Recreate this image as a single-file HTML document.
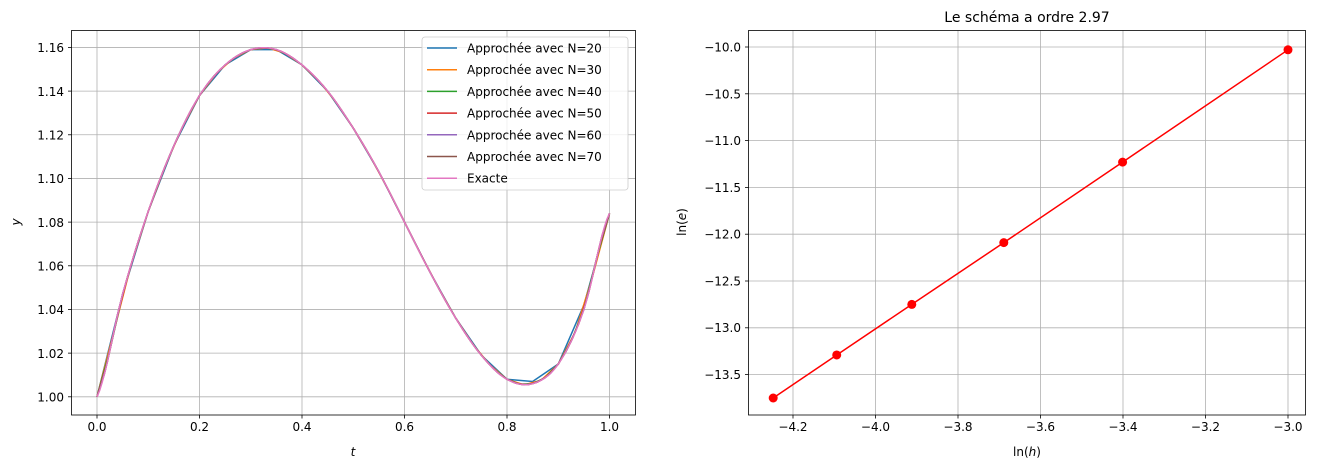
<!DOCTYPE html>
<html><head><meta charset="utf-8"><style>
body{margin:0;background:#fff}
svg{font-family:"DejaVu Sans","Liberation Sans",sans-serif;font-size:12px}
</style></head><body>
<svg id="s" width="1321" height="470" xmlns="http://www.w3.org/2000/svg">
<g id="grid" stroke="#b0b0b0" stroke-width="0.8"></g>
<g id="series" fill="none" stroke-width="1.5"></g>
<rect x="71.5" y="30.5" width="564" height="384.5" fill="none" stroke="#000" stroke-width="0.8"/>
<rect x="748.5" y="30.5" width="557" height="384.5" fill="none" stroke="#000" stroke-width="0.8"/>
<g id="ticks" stroke="#000" stroke-width="0.8"></g>
<g font-size="12" fill="#000">
<g text-anchor="middle">
<text x="97" y="431">0.0</text><text x="199.5" y="431">0.2</text><text x="302" y="431">0.4</text><text x="404.5" y="431">0.6</text><text x="507" y="431">0.8</text><text x="609.5" y="431">1.0</text>
<text x="793" y="431">−4.2</text><text x="875.5" y="431">−4.0</text><text x="958" y="431">−3.8</text><text x="1040.5" y="431">−3.6</text><text x="1123" y="431">−3.4</text><text x="1205.5" y="431">−3.2</text><text x="1288" y="431">−3.0</text>
<text x="353" y="456" font-style="italic">t</text>
<text x="1027" y="456">ln(<tspan font-style="italic">h</tspan>)</text>
<text x="1027" y="22" font-size="14">Le schéma a ordre 2.97</text>
</g>
<g text-anchor="end">
<text x="64" y="401.5">1.00</text><text x="64" y="358">1.02</text><text x="64" y="314">1.04</text><text x="64" y="270.5">1.06</text><text x="64" y="227">1.08</text><text x="64" y="183">1.10</text><text x="64" y="139.5">1.12</text><text x="64" y="96">1.14</text><text x="64" y="52">1.16</text>
<text x="741" y="51.5">−10.0</text><text x="741" y="98.5">−10.5</text><text x="741" y="145">−11.0</text><text x="741" y="192">−11.5</text><text x="741" y="238.5">−12.0</text><text x="741" y="285.5">−12.5</text><text x="741" y="332">−13.0</text><text x="741" y="379">−13.5</text>
</g>
<text transform="translate(20,222) rotate(-90)" text-anchor="middle" font-style="italic">y</text>
<text transform="translate(686,222) rotate(-90)" text-anchor="middle">ln(<tspan font-style="italic">e</tspan>)</text>
</g>
<g id="legend">
<rect x="422" y="37" width="206" height="153" rx="3" fill="#fff" fill-opacity="0.8" stroke="#ccc" stroke-width="0.8"/>
</g>
</svg>
<script>
const NS="http://www.w3.org/2000/svg";
function el(p,t,a){const e=document.createElementNS(NS,t);for(const k in a)e.setAttribute(k,a[k]);document.getElementById(p).appendChild(e);return e;}
const X=t=>97+t*512.5, Y=v=>396.8-(v-1)*2183.5;
const RX=v=>793+(v+4.2)*412.5, RY=v=>47+(-10-v)*93.6;
// grids & ticks
[0,.2,.4,.6,.8,1].forEach(t=>{el('grid','line',{x1:X(t),x2:X(t),y1:30.5,y2:415});el('ticks','line',{x1:X(t),x2:X(t),y1:415,y2:418.5});});
for(let i=0;i<9;i++){const y=Y(1+i*0.02);el('grid','line',{x1:71.5,x2:635.5,y1:y,y2:y});el('ticks','line',{x1:68,x2:71.5,y1:y,y2:y});}
for(let i=0;i<7;i++){const x=RX(-4.2+i*0.2);el('grid','line',{x1:x,x2:x,y1:30.5,y2:415});el('ticks','line',{x1:x,x2:x,y1:415,y2:418.5});}
for(let i=0;i<8;i++){const y=RY(-10-i*0.5);el('grid','line',{x1:748.5,x2:1305.5,y1:y,y2:y});el('ticks','line',{x1:745,x2:748.5,y1:y,y2:y});}
const ex=[1.0,1.047,1.085,1.115,1.138,1.152,1.159,1.159,1.152,1.140,1.123,1.103,1.080,1.057,1.036,1.019,1.008,1.006,1.015,1.040,1.084];
function interp(t){const n=ex.length-1,f=t*20,i=Math.min(Math.floor(f),n-1),u=f-i;
const p0=ex[Math.max(i-1,0)],p1=ex[i],p2=ex[i+1],p3=ex[Math.min(i+2,n)];
return p1+0.5*u*(p2-p0+u*(2*p0-5*p1+4*p2-p3+u*(3*(p1-p2)+p3-p0)));}
const cols=['#1f77b4','#ff7f0e','#2ca02c','#d62728','#9467bd','#8c564b','#e377c2'];
[20,30,40,50,60,70].forEach((N,k)=>{let pts=[];for(let i=0;i<=N;i++){const t=i/N;let v=interp(t);
if(N==20){if(i==17)v=1.007;if(i==19)v=1.042;}pts.push(X(t).toFixed(1)+','+Y(v).toFixed(1));}
el('series','polyline',{points:pts.join(' '),stroke:cols[k]});});
let pe=[];for(let i=0;i<=200;i++){const t=i/200;pe.push(X(t).toFixed(1)+','+Y(interp(t)).toFixed(1));}
el('series','polyline',{points:pe.join(' '),stroke:cols[6]});
const lh=[-3.0,-3.401,-3.689,-3.912,-4.094,-4.248], le=[-10.03,-11.23,-12.09,-12.75,-13.29,-13.75];
el('series','polyline',{points:lh.map((h,i)=>RX(h)+','+RY(le[i])).join(' '),stroke:'red'});
lh.forEach((h,i)=>el('series','circle',{cx:RX(h),cy:RY(le[i]),r:4.5,fill:'red',stroke:'none'}));
const labs=['Approchée avec N=20','Approchée avec N=30','Approchée avec N=40','Approchée avec N=50','Approchée avec N=60','Approchée avec N=70','Exacte'];
labs.forEach((l,i)=>{const y=48+i*21.7;el('legend','line',{x1:427,x2:457,y1:y,y2:y,stroke:cols[i],'stroke-width':1.5});
const t=el('legend','text',{x:467,y:y+4.5,'font-size':12});t.textContent=l;});
</script>
</body></html>
